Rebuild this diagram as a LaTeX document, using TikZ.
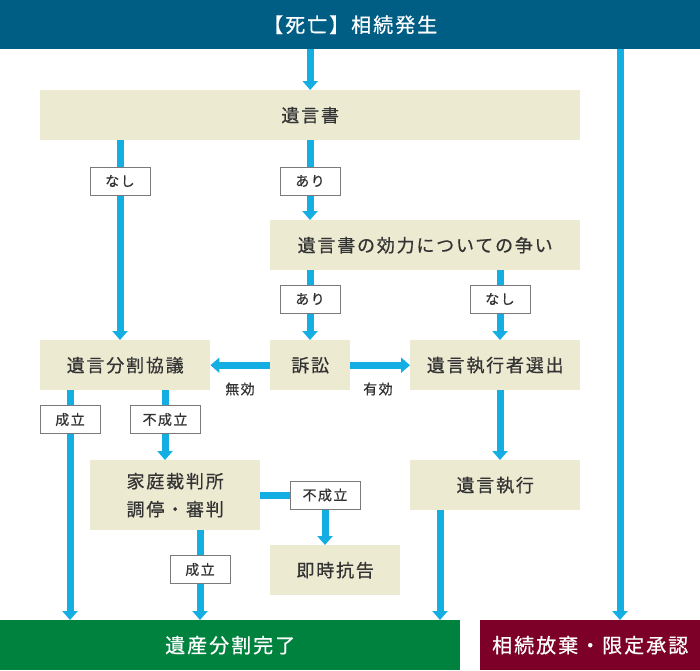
\documentclass[tikz,border=0pt]{standalone}
\usepackage{fontspec}
\usetikzlibrary{arrows.meta,backgrounds}
\newfontfamily\jp{Noto Sans CJK JP}[LetterSpace=10,FakeBold=0.6]
\definecolor{topblue}{HTML}{005E84}
\definecolor{boxfill}{HTML}{EDEAD2}
\definecolor{cyanline}{HTML}{14AEE3}
\definecolor{okgreen}{HTML}{00823F}
\definecolor{wine}{HTML}{7C0028}
\definecolor{txt}{HTML}{333333}
\definecolor{labgray}{HTML}{7A7A7A}
\begin{document}
\begin{tikzpicture}[x=1pt,y=-1pt,
  box/.style={fill=boxfill, text=txt, inner sep=0pt, anchor=north west, align=center,
    font=\jp\fontsize{18}{28}\selectfont},
  bigbox/.style={inner sep=0pt, anchor=north west, text=white,
    font=\jp\fontsize{20}{24}\selectfont},
  lab/.style={fill=white, draw=labgray, line width=1pt, text=txt, inner sep=0pt,
    minimum height=28pt, font=\jp\fontsize{14}{16}\selectfont},
  plain/.style={text=txt, inner sep=0pt, font=\jp\fontsize{14}{16}\selectfont},
  conn/.style={line width=7pt, draw=cyanline},
  arr/.style={conn, -{Triangle[width=15pt,length=9pt]}}]
\useasboundingbox (0,0) rectangle (700,670);
% main boxes
\node[bigbox, fill=topblue, minimum width=700pt, minimum height=49pt] (top) at (0,0) {【死亡】相続発生};
\node[box, minimum width=540pt, minimum height=50pt] (isho) at (40,90) {遺言書};
\node[box, minimum width=310pt, minimum height=50pt] (soui) at (270,220) {遺言書の効力についての争い};
\node[box, minimum width=170pt, minimum height=50pt] (kyogi) at (40,340) {遺言分割協議};
\node[box, minimum width=80pt, minimum height=50pt] (sosho) at (270,340) {訴訟};
\node[box, minimum width=170pt, minimum height=50pt] (senshutsu) at (410,340) {遺言執行者選出};
\node[box, minimum width=170pt, minimum height=70pt] (katei) at (90,460) {家庭裁判所\\調停・審判};
\node[box, minimum width=130pt, minimum height=50pt] (sokuji) at (270,545) {即時抗告};
\node[box, minimum width=170pt, minimum height=50pt] (shikko) at (410,460) {遺言執行};
\node[bigbox, fill=okgreen, minimum width=460pt, minimum height=50pt] (kanryo) at (0,620) {遺産分割完了};
\node[bigbox, fill=wine, minimum width=220pt, minimum height=50pt] (houki) at (480,620) {相続放棄・限定承認};
% labels
\node[lab, minimum width=60pt] (nashiA) at (120,181) {なし};
\node[lab, minimum width=60pt] (ariA) at (310,181) {あり};
\node[lab, minimum width=60pt] (ariB) at (310,299) {あり};
\node[lab, minimum width=60pt] (nashiB) at (500,299) {なし};
\node[lab, minimum width=60pt] (seiA) at (70,419.5) {成立};
\node[lab, minimum width=70pt] (fuseiA) at (165,419.5) {不成立};
\node[lab, minimum width=70pt] (fuseiB) at (325,495) {不成立};
\node[lab, minimum width=60pt] (seiB) at (200,569.5) {成立};
\node[plain] (mukou) at (240,389) {無効};
\node[plain] (yukou) at (378,389) {有効};
\coordinate (xr) at (620,0);
\coordinate (xe) at (440,0);
% connectors
\begin{scope}[on background layer]
\draw[arr] (top.south -| isho.north) -- (isho.north);
\draw[arr] (top.south -| xr) -- (houki.north -| xr);
\draw[arr] (isho.south -| nashiA) -- (kyogi.north -| nashiA);
\draw[arr] (isho.south -| ariA) -- (soui.north -| ariA);
\draw[arr] (soui.south -| ariB) -- (sosho.north -| ariB);
\draw[arr] (soui.south -| nashiB) -- (senshutsu.north -| nashiB);
\draw[arr] (sosho.west) -- (kyogi.east);
\draw[arr] (sosho.east) -- (senshutsu.west);
\draw[arr] (kyogi.south -| seiA) -- (kanryo.north -| seiA);
\draw[arr] (kyogi.south -| fuseiA) -- (katei.north -| fuseiA);
\draw[arr] (katei.east) -| (sokuji.north -| fuseiB);
\draw[arr] (katei.south -| seiB) -- (kanryo.north -| seiB);
\draw[arr] (senshutsu.south -| nashiB) -- (shikko.north -| nashiB);
\draw[arr] (shikko.south -| xe) -- (kanryo.north -| xe);
\end{scope}
\end{tikzpicture}
\end{document}
